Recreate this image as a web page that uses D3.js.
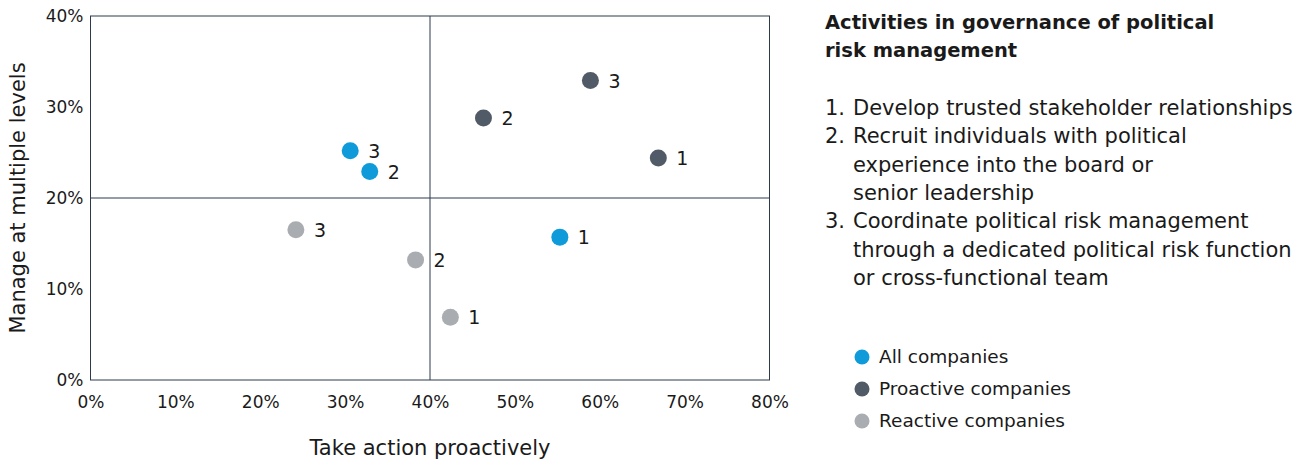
<!DOCTYPE html>
<html>
<head>
<meta charset="utf-8">
<script src="https://cdn.jsdelivr.net/npm/d3@7"></script>
<style>
  html, body { margin: 0; padding: 0; background: #fff; }
  svg { display: block; }
  text { font-family: "DejaVu Sans", sans-serif; fill: #1a1a1a; }
</style>
</head>
<body>
<svg id="chart" width="1301" height="459"></svg>
<script>
// ---- data ----
const seriesNames = ["All companies", "Proactive companies", "Reactive companies"];
const seriesColors = ["#0f9ad9", "#505b67", "#a9acb1"];
const activityIds = ["1", "2", "3"];
const allX = [55.3, 32.9, 30.6];
const allY = [15.7, 22.9, 25.2];
const proX = [66.9, 46.3, 58.9];
const proY = [24.4, 28.8, 32.9];
const reX = [42.4, 38.3, 24.2];
const reY = [6.9, 13.2, 16.5];
const xTicks = [0, 10, 20, 30, 40, 50, 60, 70, 80];
const yTicks = [0, 10, 20, 30, 40];
const xTitle = "Take action proactively";
const yTitle = "Manage at multiple levels";
const panelTitle = ["Activities in governance of political", "risk management"];
const activityLines = [
  ["1.", "Develop trusted stakeholder relationships"],
  ["2.", "Recruit individuals with political"],
  ["", "experience into the board or"],
  ["", "senior leadership"],
  ["3.", "Coordinate political risk management"],
  ["", "through a dedicated political risk function"],
  ["", "or cross-functional team"]
];

const series = [
  { name: seriesNames[0], color: seriesColors[0], xs: allX, ys: allY },
  { name: seriesNames[1], color: seriesColors[1], xs: proX, ys: proY },
  { name: seriesNames[2], color: seriesColors[2], xs: reX, ys: reY }
];

const svg = d3.select("#chart");
const frameColor = "#2c3a4c";

const x = d3.scaleLinear().domain([0, 80]).range([90.5, 769.5]);
const y = d3.scaleLinear().domain([0, 40]).range([380, 16]);

// frame
svg.append("rect")
  .attr("x", x(0)).attr("y", y(40))
  .attr("width", x(80) - x(0)).attr("height", y(0) - y(40))
  .attr("fill", "none").attr("stroke", frameColor).attr("stroke-width", 1);

// quadrant lines
svg.append("line")
  .attr("x1", x(40)).attr("x2", x(40)).attr("y1", y(0)).attr("y2", y(40))
  .attr("stroke", frameColor).attr("stroke-width", 1);
svg.append("line")
  .attr("x1", x(0)).attr("x2", x(80)).attr("y1", y(20)).attr("y2", y(20))
  .attr("stroke", frameColor).attr("stroke-width", 1);

// axes (labels only)
const fmt = d => d + "%";
const xAxis = svg.append("g").attr("transform", `translate(0,${y(0)})`)
  .call(d3.axisBottom(x).tickValues(xTicks).tickFormat(fmt).tickSize(0).tickPadding(16));
xAxis.select(".domain").remove();
xAxis.selectAll("text").style("font-size", "17px").attr("fill", "#1a1a1a")
  .style("font-family", "'DejaVu Sans', sans-serif");

const yAxis = svg.append("g").attr("transform", `translate(${x(0)},0)`)
  .call(d3.axisLeft(y).tickValues(yTicks).tickFormat(fmt).tickSize(0).tickPadding(7));
yAxis.select(".domain").remove();
yAxis.selectAll("text").style("font-size", "17px").attr("fill", "#1a1a1a")
  .style("font-family", "'DejaVu Sans', sans-serif");

// axis titles
svg.append("text")
  .attr("x", x(40)).attr("y", 455)
  .attr("text-anchor", "middle")
  .style("font-size", "21px")
  .text(xTitle);
svg.append("text")
  .attr("transform", `translate(25,${y(20)}) rotate(-90)`)
  .attr("text-anchor", "middle")
  .style("font-size", "21px")
  .text(yTitle);

// points
series.forEach(s => {
  const pts = s.xs.map((v, i) => ({ x: v, y: s.ys[i], id: activityIds[i] }));
  const g = svg.append("g");
  g.selectAll("circle").data(pts).enter().append("circle")
    .attr("cx", d => x(d.x)).attr("cy", d => y(d.y))
    .attr("r", 8.5).attr("fill", s.color);
  g.selectAll("text").data(pts).enter().append("text")
    .attr("x", d => x(d.x) + 18).attr("y", d => y(d.y) + 7)
    .style("font-size", "19px")
    .text(d => d.id);
});

// right panel title
svg.append("g").selectAll("text").data(panelTitle).enter().append("text")
  .attr("x", 825).attr("y", (d, i) => 29 + i * 28)
  .style("font-size", "19.5px").style("font-weight", "bold")
  .text(d => d);

// activity list
const list = svg.append("g");
activityLines.forEach((l, i) => {
  const yy = 115 + i * 28.3;
  if (l[0]) list.append("text").attr("x", 825).attr("y", yy).style("font-size", "21px").text(l[0]);
  list.append("text").attr("x", 853).attr("y", yy).style("font-size", "21px").text(l[1]);
});

// legend
const leg = svg.append("g");
series.forEach((s, i) => {
  const yy = 357 + i * 32;
  leg.append("circle").attr("cx", 862).attr("cy", yy).attr("r", 7.5).attr("fill", s.color);
  leg.append("text").attr("x", 879).attr("y", yy + 6).style("font-size", "18.5px").text(s.name);
});
</script>
</body>
</html>
